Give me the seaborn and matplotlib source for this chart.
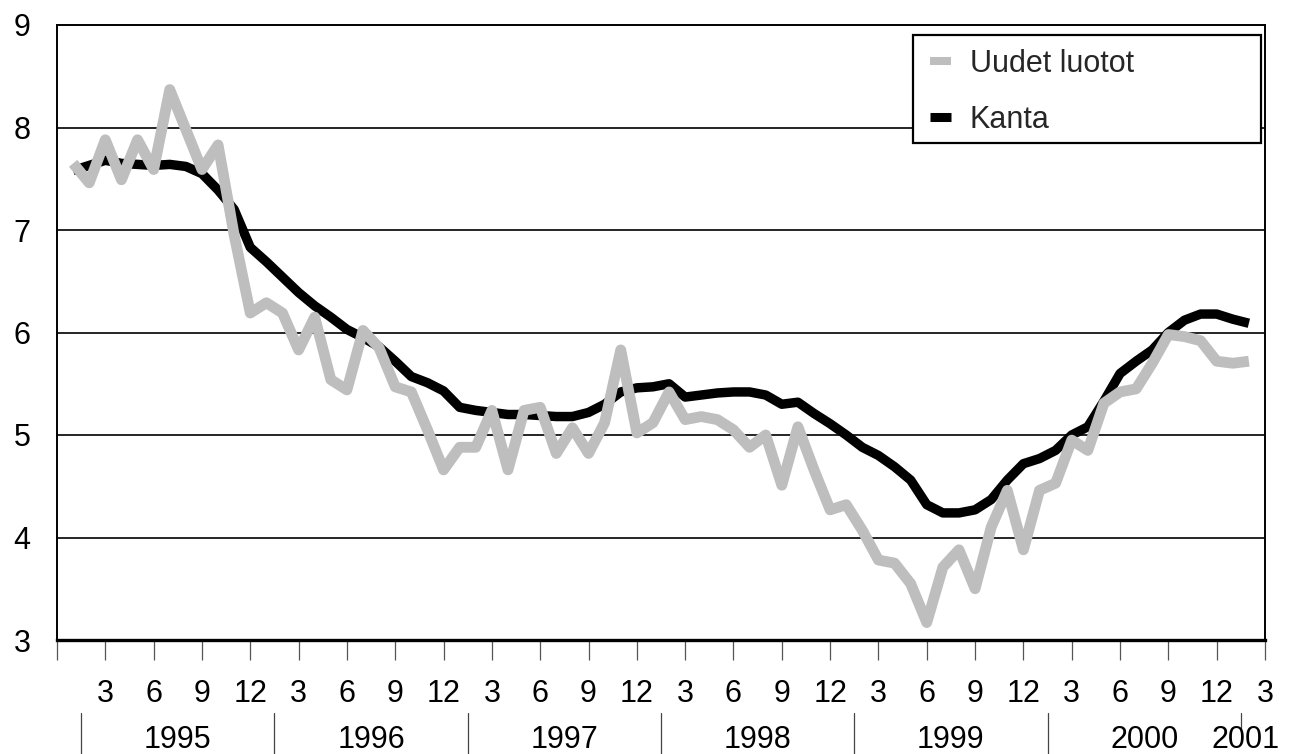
import numpy as np
import pandas as pd
import matplotlib
matplotlib.use("Agg")
import matplotlib.pyplot as plt
from matplotlib.lines import Line2D
from matplotlib.patches import Rectangle
import seaborn as sns

# Month index: 0 = Dec 1994, 1 = Jan 1995, ... 75 = Mar 2001
months = list(range(1, 75))

uudet_luotot = [
    7.65, 7.46, 7.88, 7.49, 7.88, 7.59, 8.37, 7.98, 7.59, 7.83, 6.95, 6.19,
    6.29, 6.19, 5.83, 6.15, 5.54, 5.44, 6.02, 5.85, 5.47, 5.42, 5.05, 4.66,
    4.88, 4.88, 5.24, 4.66, 5.24, 5.27, 4.82, 5.07, 4.82, 5.12, 5.83, 5.02,
    5.12, 5.42, 5.15, 5.18, 5.15, 5.05, 4.88, 5.00, 4.51, 5.08, 4.66, 4.27,
    4.32, 4.07, 3.78, 3.75, 3.55, 3.17, 3.71, 3.88, 3.50, 4.10, 4.46, 3.88,
    4.46, 4.53, 4.95, 4.85, 5.31, 5.42, 5.45, 5.70, 5.98, 5.96, 5.92, 5.72,
    5.70, 5.72,
]

kanta = [
    7.58, 7.63, 7.68, 7.65, 7.64, 7.63, 7.64, 7.62, 7.55, 7.39, 7.20, 6.83,
    6.69, 6.54, 6.39, 6.26, 6.15, 6.03, 5.95, 5.86, 5.72, 5.57, 5.51, 5.43,
    5.27, 5.24, 5.22, 5.20, 5.20, 5.19, 5.18, 5.18, 5.22, 5.30, 5.42, 5.46,
    5.47, 5.50, 5.37, 5.39, 5.41, 5.42, 5.42, 5.39, 5.30, 5.32, 5.21, 5.11,
    5.00, 4.88, 4.80, 4.69, 4.56, 4.32, 4.24, 4.24, 4.27, 4.37, 4.56, 4.72,
    4.77, 4.85, 5.00, 5.08, 5.33, 5.60, 5.72, 5.83, 6.00, 6.12, 6.18, 6.18,
    6.13, 6.09,
]

series_labels = ["Uudet luotot", "Kanta"]
month_ticks = list(range(0, 76, 3))
month_tick_labels = [""] + ["3", "6", "9", "12"] * 6 + ["3"]
years = ["1995", "1996", "1997", "1998", "1999", "2000"]
year_centers = [7.5, 19.5, 31.5, 43.5, 55.5, 67.5]
year_separators = [1.5, 13.5, 25.5, 37.5, 49.5, 61.5]
last_year = "2001"
last_year_pos = 73.8
y_ticks = [3, 4, 5, 6, 7, 8, 9]

sns.set_style("white")
plt.rcParams['font.family'] = ['Liberation Sans', 'DejaVu Sans']

FS = 22
GREY = "#bebebe"

fig = plt.figure(figsize=(12.99, 7.54), dpi=100)
ax = fig.add_axes([57 / 1299, 1 - 640 / 754, (1265 - 57) / 1299, (640 - 25) / 754])

df = pd.DataFrame({"month": months, "Uudet luotot": uudet_luotot, "Kanta": kanta})

sns.lineplot(data=df, x="month", y="Kanta", color="black", linewidth=6.8,
             ax=ax, zorder=3, solid_joinstyle="round", solid_capstyle="butt")
sns.lineplot(data=df, x="month", y="Uudet luotot", color=GREY, linewidth=7.8,
             ax=ax, zorder=4, solid_joinstyle="round", solid_capstyle="butt")

ax.set_xlim(0, 75)
ax.set_ylim(3, 9)
ax.set_xlabel("")
ax.set_ylabel("")

# grid
for yv in [4, 5, 6, 7, 8]:
    ax.axhline(yv, color="black", linewidth=1.2, zorder=1)

ax.set_yticks(y_ticks)
ax.set_yticklabels([str(v) for v in y_ticks], fontsize=FS)
ax.set_xticks(month_ticks)
ax.set_xticklabels(month_tick_labels, fontsize=FS)
ax.tick_params(axis="y", left=False, length=0, pad=19, labelcolor="black")
ax.tick_params(axis="x", bottom=True, length=14.4, width=0.9, color="#555555",
               pad=14, labelcolor="black", direction="out")

for s in ["left", "right", "top"]:
    ax.spines[s].set_color("black")
    ax.spines[s].set_linewidth(1.4)
ax.spines["bottom"].set_color("black")
ax.spines["bottom"].set_linewidth(2.4)

trans = ax.get_xaxis_transform()
for xs in year_separators:
    ax.plot([xs, xs], [-0.119, -0.2], transform=trans, color="#444444",
            linewidth=0.9, clip_on=False)
ax.plot([73.5, 73.5], [-0.119, -0.146], transform=trans, color="#444444",
        linewidth=0.9, clip_on=False)
for yl, xc in zip(years, year_centers):
    ax.text(xc, -0.163, yl, transform=trans, ha="center", va="center",
            fontsize=FS, color="black")
ax.text(last_year_pos, -0.163, last_year, transform=trans, ha="center",
        va="center", fontsize=FS, color="black")

# legend box
box_x0 = (913 - 57) / 1208
box_x1 = (1261 - 57) / 1208
box_y1 = (640 - 35) / 615
box_y0 = (640 - 143) / 615
ax.add_patch(Rectangle((box_x0, box_y0), box_x1 - box_x0, box_y1 - box_y0,
                       transform=ax.transAxes, facecolor="white",
                       edgecolor="black", linewidth=1.6, zorder=5))
handles = [Line2D([0], [0], color=GREY, linewidth=5.8, solid_capstyle="butt"),
           Line2D([0], [0], color="black", linewidth=6.5, solid_capstyle="butt")]
leg = ax.legend(handles, series_labels, loc="upper left",
                bbox_to_anchor=((930 - 57) / 1208, (640 - 49) / 615),
                frameon=False, fontsize=FS, handlelength=0.7,
                handletextpad=0.6, labelspacing=0.85, borderpad=0,
                borderaxespad=0)
leg.set_zorder(6)

fig.savefig("out.png", dpi=100)
